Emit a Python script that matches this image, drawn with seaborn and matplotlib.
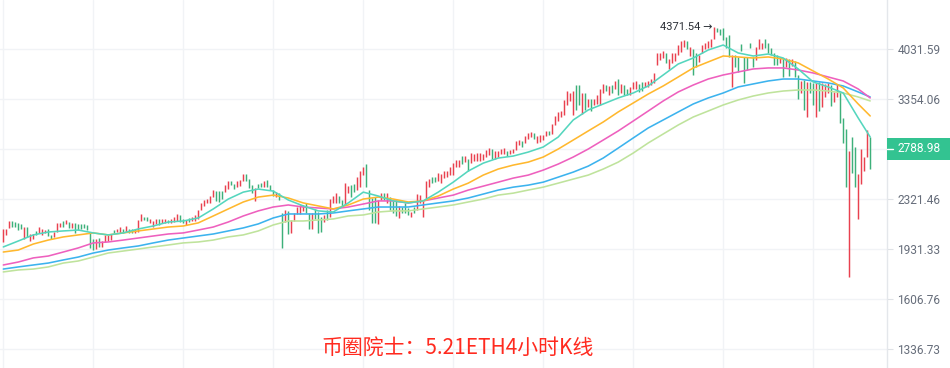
import numpy as np
import pandas as pd
import matplotlib
matplotlib.use("Agg")
import matplotlib.pyplot as plt
import seaborn as sns
from matplotlib.patches import Rectangle
from matplotlib.lines import Line2D
from matplotlib.ticker import NullLocator

# ---------------- data ----------------
high = [
    2079, 2079, 2141, 2141, 2133, 2125, 2117, 2094, 2094, 2041,
    2041, 2064, 2094, 2079, 2071, 2079, 2033, 2056, 2125, 2125,
    2141, 2149, 2133, 2125, 2125, 2117, 2117, 2117, 2110, 2049,
    2004, 2004, 2011, 1989, 2033, 2033, 2041, 2071, 2079, 2094,
    2079, 2102, 2079, 2079, 2079, 2149, 2197, 2173, 2173, 2157,
    2141, 2157, 2157, 2157, 2157, 2149, 2157, 2173, 2197, 2189,
    2157, 2149, 2165, 2173, 2189, 2229, 2288, 2313, 2321, 2346,
    2398, 2390, 2390, 2390, 2443, 2479, 2479, 2452, 2479, 2488,
    2544, 2544, 2497, 2443, 2416, 2452, 2461, 2479, 2488, 2443,
    2398, 2381, 2372, 2205, 2229, 2221, 2149, 2205, 2254, 2271,
    2271, 2288, 2205, 2205, 2238, 2213, 2173, 2189, 2229, 2321,
    2346, 2372, 2346, 2313, 2461, 2434, 2443, 2452, 2516, 2572,
    2610, 2639, 2398, 2330, 2338, 2313, 2372, 2372, 2372, 2338,
    2304, 2313, 2262, 2254, 2288, 2246, 2213, 2254, 2363, 2355,
    2304, 2479, 2497, 2516, 2516, 2553, 2544, 2572, 2572, 2610,
    2649, 2678, 2678, 2718, 2718, 2688, 2748, 2738, 2748, 2748,
    2738, 2779, 2800, 2789, 2769, 2769, 2789, 2800, 2769, 2779,
    2789, 2874, 2884, 2874, 2927, 2959, 2970, 2959, 2927, 2938,
    2938, 2981, 2981, 3059, 3151, 3198, 3210, 3342, 3454, 3429,
    3454, 3531, 3531, 3429, 3429, 3354, 3354, 3354, 3404, 3480,
    3544, 3531, 3518, 3531, 3584, 3610, 3544, 3531, 3480, 3506,
    3571, 3584, 3544, 3571, 3571, 3584, 3610, 3691, 3973, 3973,
    4002, 3973, 3886, 3973, 3973, 4091, 4152, 4167, 4152, 4061,
    4032, 3973, 3944, 4091, 4122, 4152, 4183, 4371.54, 4355, 4340,
    4350, 4214, 4245, 3944, 3944, 3915, 4107, 3915, 3915, 4122,
    3915, 4061, 4183, 4122, 4183, 4122, 4046, 3973, 3944, 3901,
    3901, 3901, 3886, 3886, 3858, 3664, 3584, 3597, 3571, 3571,
    3558, 3558, 3571, 3558, 3544, 3558, 3531, 3442, 3544, 3442,
    3128, 3003, 2769, 2917, 2810, 2544, 2789, 2708, 2992, 2917,
]
low = [
    1982, 2033, 2087, 2094, 2094, 2071, 2079, 2004, 2019, 1989,
    2004, 2033, 2049, 2033, 2049, 2026, 2004, 2019, 2056, 2094,
    2094, 2117, 2087, 2087, 2049, 2071, 2079, 2087, 2071, 1938,
    1924, 1931, 1946, 1946, 1982, 1989, 1996, 2049, 2056, 2049,
    2049, 2056, 2049, 2049, 2049, 2056, 2141, 2149, 2141, 2125,
    2094, 2117, 2110, 2125, 2125, 2125, 2125, 2133, 2141, 2133,
    2125, 2110, 2133, 2141, 2141, 2157, 2229, 2262, 2288, 2288,
    2338, 2304, 2296, 2321, 2381, 2407, 2443, 2407, 2425, 2434,
    2479, 2479, 2416, 2372, 2304, 2416, 2425, 2425, 2425, 2398,
    2346, 2338, 2313, 1938, 2133, 2041, 2049, 2141, 2197, 2197,
    2221, 2205, 2079, 2079, 2157, 2049, 2056, 2133, 2149, 2173,
    2288, 2288, 2288, 2254, 2271, 2372, 2338, 2381, 2398, 2425,
    2534, 2425, 2229, 2125, 2125, 2117, 2313, 2313, 2288, 2229,
    2205, 2181, 2165, 2205, 2205, 2189, 2173, 2205, 2229, 2288,
    2173, 2313, 2425, 2461, 2470, 2479, 2461, 2507, 2516, 2534,
    2534, 2610, 2610, 2639, 2659, 2572, 2649, 2669, 2669, 2669,
    2678, 2708, 2728, 2688, 2688, 2708, 2738, 2738, 2718, 2738,
    2748, 2779, 2832, 2810, 2853, 2895, 2917, 2895, 2853, 2863,
    2884, 2927, 2938, 2949, 3048, 3093, 3139, 3162, 3281, 3330,
    3162, 3221, 3281, 3174, 3221, 3257, 3209, 3281, 3293, 3281,
    3429, 3454, 3404, 3429, 3480, 3404, 3429, 3404, 3404, 3404,
    3480, 3480, 3442, 3454, 3506, 3506, 3531, 3558, 3801, 3872,
    3901, 3829, 3746, 3829, 3858, 3944, 3987, 4061, 4032, 3929,
    3664, 3773, 3843, 3973, 4032, 4046, 4061, 4183, 4292, 4245,
    4167, 4046, 3915, 3506, 3773, 3705, 4002, 3558, 3732, 4046,
    3773, 3872, 4032, 4032, 4046, 3973, 3944, 3801, 3801, 3829,
    3637, 3773, 3650, 3787, 3637, 3354, 3429, 3221, 3139, 3429,
    3281, 3139, 3209, 3257, 3379, 3429, 3269, 3317, 3379, 3071,
    2853, 2425, 1742, 2553, 2425, 2157, 2452, 2572, 2708, 2591,
]
# r = rising candle (red), g = falling candle (green)
direction = (
    "rrrggggrgr" "rgrrrggrrr" "grgrgggggg" "grgrrrrgrr" "grggrrrggr"
    "rrgrrgrrrg" "grgrrrrrrr" "rgggrrggrr" "rgggrggrgg" "grggrgrrrr"
    "rggrgggrgr" "rrggrrggrr" "rggggrrgrg" "ggrgggrgrr" "rrrggrrrrr"
    "rrrgrgrrrr" "rrrgrrrrgr" "rrrgrrrgrr" "rrgrrrrrrr" "rggrgrgrrr"
    "rgrgrgrggr" "rrggrrrrrr" "rgrrrrrrgr" "ggrrrrrrgg" "gggrgggggg"
    "grrrgggggr" "grgrggrgrg" "grgrrrgrrg" "ggrggrrrrg"
)
last_close = 2788.98

# moving averages, sampled every 5 candles (last point = last candle)
ma_idx = list(range(0, 290, 5)) + [289]
ma_fast = [
    1946, 1989, 2034, 2056, 2064, 2071, 2049, 2034, 2049, 2079,
    2102, 2133, 2141, 2165, 2238, 2321, 2381, 2408, 2390, 2313,
    2263, 2222, 2213, 2288, 2381, 2347, 2305, 2288, 2305, 2381,
    2470, 2573, 2649, 2699, 2719, 2759, 2811, 2916, 3105, 3221,
    3293, 3367, 3429, 3519, 3664, 3815, 3900, 4017, 4091, 3973,
    3929, 3958, 3900, 3746, 3571, 3506, 3429, 3128, 2916,
]
ma_orange = [
    1910, 1924, 1967, 1996, 2019, 2034, 2049, 2034, 2049, 2064,
    2079, 2094, 2102, 2126, 2181, 2238, 2296, 2338, 2355, 2330,
    2288, 2263, 2238, 2271, 2321, 2338, 2321, 2296, 2305, 2347,
    2408, 2461, 2535, 2592, 2630, 2659, 2709, 2790, 2884, 2982,
    3082, 3198, 3305, 3416, 3519, 3637, 3760, 3844, 3929, 3915,
    3900, 3915, 3886, 3830, 3718, 3610, 3493, 3293, 3151,
]
ma_pink = [
    1821, 1841, 1869, 1882, 1910, 1939, 1975, 1982, 1996, 2011,
    2026, 2041, 2049, 2071, 2094, 2133, 2181, 2222, 2254, 2271,
    2254, 2246, 2238, 2254, 2279, 2305, 2305, 2288, 2305, 2330,
    2355, 2399, 2434, 2470, 2507, 2535, 2582, 2640, 2709, 2790,
    2884, 2982, 3093, 3209, 3330, 3442, 3531, 3610, 3664, 3705,
    3746, 3760, 3760, 3732, 3691, 3637, 3584, 3480, 3367,
]
ma_blue = [
    1794, 1808, 1821, 1834, 1855, 1875, 1903, 1924, 1939, 1953,
    1975, 1996, 2011, 2026, 2041, 2064, 2087, 2118, 2165, 2197,
    2197, 2197, 2205, 2222, 2238, 2254, 2254, 2254, 2271, 2288,
    2305, 2330, 2364, 2399, 2425, 2443, 2470, 2516, 2563, 2620,
    2699, 2800, 2906, 3015, 3105, 3198, 3293, 3367, 3429, 3506,
    3545, 3584, 3610, 3610, 3584, 3558, 3519, 3442, 3379,
]
ma_slow = [
    1775, 1788, 1794, 1808, 1834, 1848, 1875, 1903, 1917, 1931,
    1946, 1960, 1975, 1982, 1996, 2019, 2034, 2064, 2110, 2141,
    2141, 2149, 2157, 2181, 2189, 2213, 2222, 2222, 2238, 2254,
    2271, 2296, 2321, 2355, 2372, 2399, 2425, 2461, 2498, 2535,
    2592, 2659, 2749, 2853, 2949, 3048, 3139, 3209, 3281, 3342,
    3391, 3429, 3454, 3467, 3467, 3454, 3429, 3379, 3330,
]

y_ticks = [4031.59, 3354.06, 2788.98, 2321.46, 1931.33, 1606.76, 1336.73]
title = "币圈院士：5.21ETH4小时K线"

# ---------------- style ----------------
sns.set_theme(style="white")
plt.rcParams["font.family"] = ["Roboto", "DejaVu Sans"]

W, H = 950, 368
fig = plt.figure(figsize=(W / 100, H / 100), dpi=100)
fig.patch.set_facecolor("white")
ax = fig.add_axes([0, 0, 887 / W, 1])
ax.set_facecolor("white")

n = len(high)
idx = np.arange(n)
up_col, dn_col = "#E9414F", "#3DB07A"
cols = [up_col if d == "r" else dn_col for d in direction]
ax.vlines(idx, low, high, colors=cols, linewidth=1.05, zorder=3)

palette = {
    "fast": "#55D6BE",
    "orange": "#FFB82E",
    "pink": "#EE60BE",
    "blue": "#3CB3EE",
    "slow": "#BFE39C",
}
frames = []
for name, vals in [("slow", ma_slow), ("blue", ma_blue), ("pink", ma_pink),
                   ("orange", ma_orange), ("fast", ma_fast)]:
    frames.append(pd.DataFrame({"idx": ma_idx, "price": vals, "ma": name}))
df = pd.concat(frames, ignore_index=True)
sns.lineplot(data=df, x="idx", y="price", hue="ma", palette=palette,
             ax=ax, legend=False, linewidth=1.15, zorder=4, sort=False,
             estimator=None)

ax.set_yscale("log")
ax.set_ylim(1246.5, 4828)
ax.set_xlim(-1.1, 294.6)

ax.yaxis.tick_right()
ax.set_yticks(y_ticks)
ax.set_yticklabels(["" if v == last_close else f"{v:.2f}" for v in y_ticks])
ax.yaxis.set_minor_locator(NullLocator())
ax.tick_params(axis="y", length=4.3, width=0.8, color="#dfe2e6",
               labelsize=8.6, labelcolor="#666d7a", pad=3.2)
ax.set_xticks(np.arange(0, 290, 30))
ax.set_xticklabels([])
ax.tick_params(axis="x", length=0)
ax.set_xlabel("")
ax.set_ylabel("")
ax.grid(True, color="#f1f3f6", linewidth=1.0, zorder=0)
ax.set_axisbelow(True)
for s in ["top", "left", "bottom"]:
    ax.spines[s].set_visible(False)
ax.spines["right"].set_color("#e4e7eb")
ax.spines["right"].set_linewidth(1.0)

# current price label
y_px = H - 149
fig.patches.append(Rectangle((887 / W, (y_px - 11) / H), 63 / W, 22 / H,
                             transform=fig.transFigure, facecolor="#33C391",
                             edgecolor="none", zorder=5))
fig.lines.append(Line2D([887 / W, 893 / W], [y_px / H, y_px / H],
                        transform=fig.transFigure, color="white", lw=1.0,
                        zorder=6))
fig.text(897.5 / W, y_px / H, f"{last_close:.2f}", color="white",
         fontsize=8.6, ha="left", va="center", zorder=7)

# max annotation
imax = int(np.argmax(high))
ax.annotate(f"{high[imax]:.2f} →", xy=(imax, high[imax]),
            xytext=(-1.5, 0), textcoords="offset points",
            ha="right", va="center", fontsize=8.0, color="#2b2f36",
            family=["Roboto", "DejaVu Sans"], zorder=6)

fig.text(458 / W, 1 - 348 / H, title, color="#FF2A1F", fontsize=15,
         ha="center", va="center",
         family=["Noto Sans CJK SC", "DejaVu Sans"], zorder=8)

fig.savefig("out.png", dpi=100, facecolor="white")
